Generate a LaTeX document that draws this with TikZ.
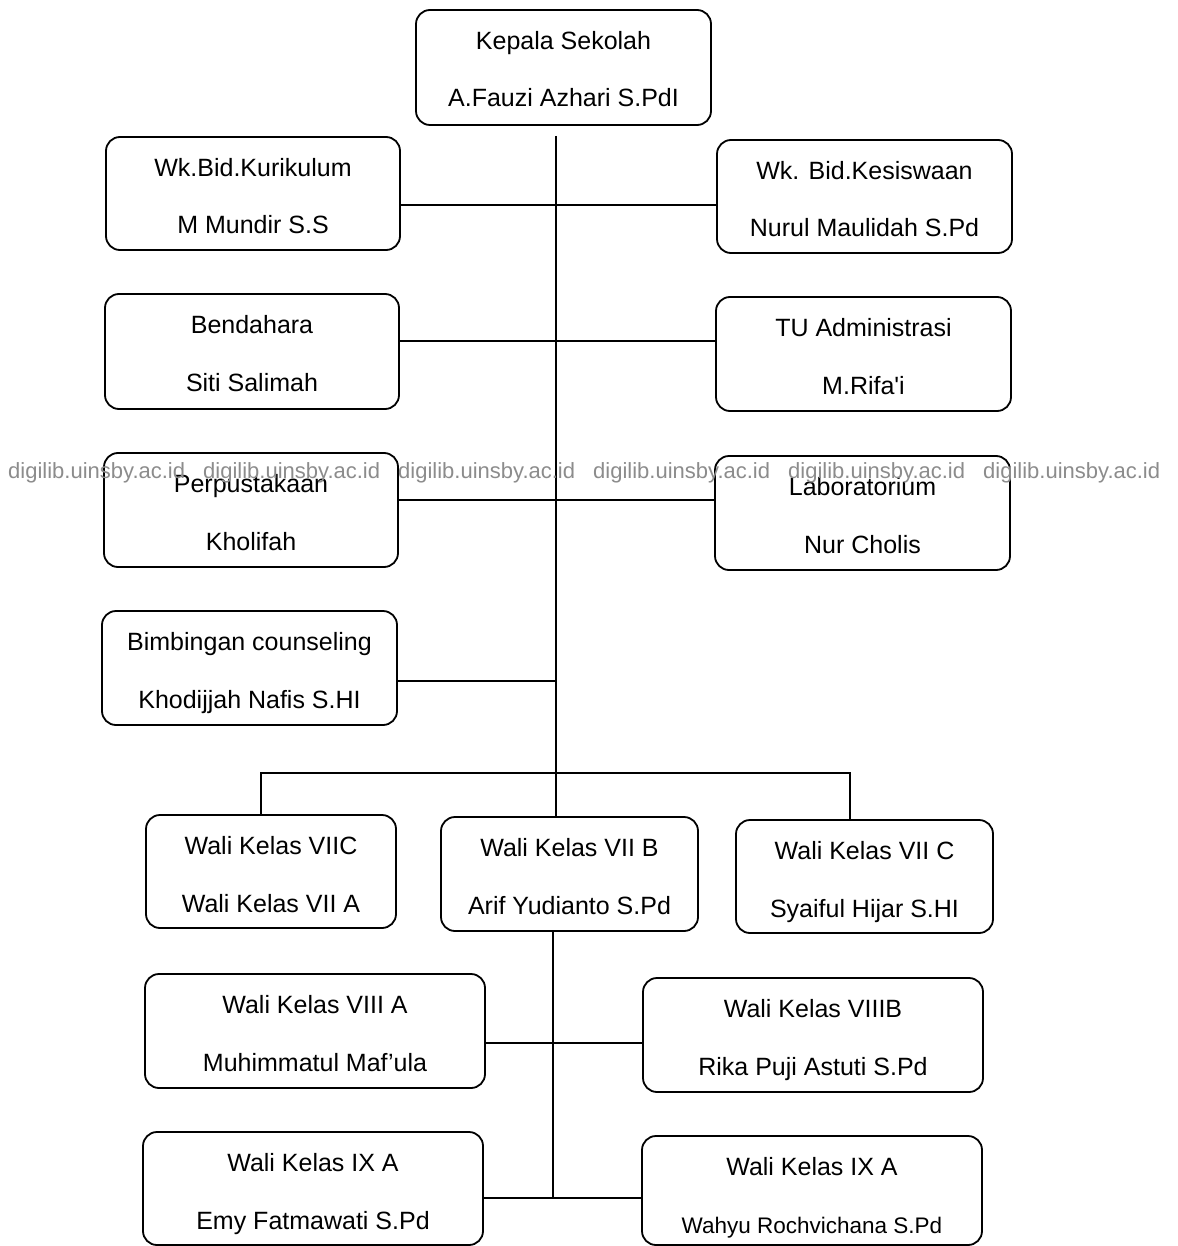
\documentclass[tikz,border=0pt]{standalone}
\usepackage{fontspec}
\setmainfont{Liberation Sans}
\usetikzlibrary{calc}
\definecolor{wmgray}{HTML}{8C8C8C}
\tikzset{
 orgbox/.style={draw, line width=1.8pt, rounded corners=14pt, inner sep=0pt},
 lbl/.style={anchor=base, inner sep=0pt, font=\fontsize{25}{25}\selectfont},
 conn/.style={line width=1.5pt},
 wm/.style={anchor=base west, inner sep=0pt, text=wmgray, font=\fontsize{22}{22}\selectfont}
}
\newcommand{\orgbox}[7]{%
 \node[orgbox, minimum width={(#4)-(#2)}, minimum height={(#5)-(#3)}] (#1) at ({((#2)+(#4))/2},{((#3)+(#5))/2}) {};
 \node[lbl] (#1-a) at ({((#2)+(#4))/2},{(#3)+39.5}) {#6};
 \node[lbl] (#1-b) at ({((#2)+(#4))/2},{(#3)+97}) {#7};
}
\begin{document}
\begin{tikzpicture}[x=1pt,y=-1pt]
\useasboundingbox (0,0) rectangle (1177,1246);
\fill[white] (0,0) rectangle (1177,1246);

\orgbox{kep}{416}{10}{711}{125}{Kepala Sekolah}{A.Fauzi Azhari S.PdI}
\orgbox{kur}{106}{137}{400}{250}{Wk.Bid.Kurikulum}{M Mundir S.S}
\orgbox{kes}{717}{140}{1012}{253}{Wk. Bid.Kesiswaan}{Nurul Maulidah S.Pd}
\orgbox{ben}{105}{294}{399}{409}{Bendahara}{Siti Salimah}
\orgbox{tu}{716}{297}{1011}{411}{TU Administrasi}{M.Rifa\textquotesingle i}
\orgbox{per}{104}{453}{398}{567}{Perpustakaan}{Kholifah}
\orgbox{lab}{715}{456}{1010}{570}{Laboratorium}{Nur Cholis}
\orgbox{bim}{102}{611}{397}{725}{Bimbingan counseling}{Khodijjah Nafis S.HI}
\orgbox{wa}{146}{815}{396}{928}{Wali Kelas VIIC}{Wali Kelas VII A}
\orgbox{wb}{441}{817}{698}{931}{Wali Kelas VII B}{Arif Yudianto S.Pd}
\orgbox{wc}{736}{820}{993}{933}{Wali Kelas VII C}{Syaiful Hijar S.HI}
\orgbox{w8a}{145}{974}{485}{1088}{Wali Kelas VIII A}{Muhimmatul Maf'ula}
\orgbox{w8b}{643}{978}{983}{1092}{Wali Kelas VIIIB}{Rika Puji Astuti S.Pd}
\orgbox{w9a}{143}{1132}{483}{1245}{Wali Kelas IX A}{Emy Fatmawati S.Pd}
\orgbox{w9b}{642}{1136}{982}{1245}{Wali Kelas IX A}{{\fontsize{22.5}{22.5}\selectfont Wahyu Rochvichana S.Pd}}

% junction coordinates
\coordinate (ttop) at (556,136);
\coordinate (h1) at (556,205);
\coordinate (h2) at (556,341);
\coordinate (h3) at (556,500);
\coordinate (h4) at (556,681);
\coordinate (bl) at (261,773);
\coordinate (br) at (850,773);
\coordinate (h5) at (553,1043);
\coordinate (h6) at (553,1198);

% upper trunk
\draw[conn] (ttop) -- (wb.north -| ttop);
\draw[conn] (kur.east |- h1) -- (kes.west |- h1);
\draw[conn] (ben.east |- h2) -- (tu.west |- h2);
\draw[conn] (per.east |- h3) -- (lab.west |- h3);
\draw[conn] (bim.east |- h4) -- (h4);
\draw[conn] (wa.north -| bl) -- (bl) -- (br) -- (wc.north -| br);

% lower trunk
\draw[conn] (wb.south -| h5) -- (h6);
\draw[conn] (w8a.east |- h5) -- (w8b.west |- h5);
\draw[conn] (w9a.east |- h6) -- (w9b.west |- h6);

% watermark
\foreach \wx [count=\i] in {8,203,398,593,788,983}
  \node[wm] (wm\i) at (\wx,478) {digilib.uinsby.ac.id};
\end{tikzpicture}
\end{document}
